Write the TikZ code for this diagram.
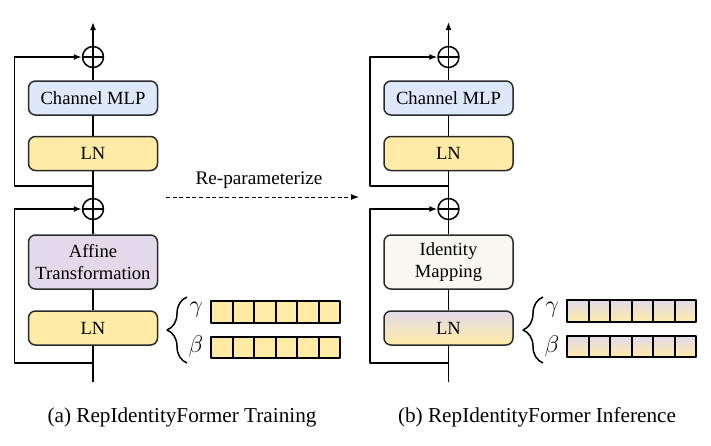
\documentclass[tikz,border=0pt]{standalone}
\usepackage{fontspec}
\setmainfont{Liberation Serif}
\usetikzlibrary{arrows.meta, decorations.pathreplacing, calc}
\definecolor{mlp}{RGB}{221,233,250}
\definecolor{lny}{RGB}{255,235,166}
\definecolor{aff}{RGB}{226,218,234}
\definecolor{idm}{RGB}{249,248,240}
\definecolor{bd}{HTML}{2a2a2a}

\begin{document}
\begin{tikzpicture}[x=0.5pt, y=-0.5pt, line join=round, line width=0.75pt,
    blk/.style={draw=bd, rounded corners=3.5pt, minimum width=64.5pt, minimum height=17pt,
        inner sep=1pt, align=center, font=\fontsize{9.3}{11}\selectfont},
    tall/.style={blk, minimum height=27pt},
    oplus/.style={circle, draw, minimum size=10.5pt, inner sep=0pt,
        path picture={\draw (path picture bounding box.north) -- (path picture bounding box.south)
            (path picture bounding box.west) -- (path picture bounding box.east);}},
    arr/.style={-{Latex[length=4pt,width=3pt]}},
    cell/.style={draw=black, line width=1pt},
    lbl/.style={font=\fontsize{11.5}{13}\selectfont}]

    \useasboundingbox (0,0) rectangle (711,445);

    % column positions (pixels of the original figure)
    \def\xa{93}
    \def\xb{448.5}
    \def\cw{21.5} % width of one gamma/beta cell

    % ---------------- (a) training ----------------
    \node[oplus] (sumA) at (\xa,57) {};
    \node[blk, fill=mlp] (mlpA) at (\xa,98) {Channel MLP};
    \node[blk, fill=lny] (lnA) at (\xa,153.5) {LN};
    \node[oplus] (sumB) at (\xa,209) {};
    \node[tall, fill=aff] (affA) at (\xa,262) {Affine\\Transformation};
    \node[blk, fill=lny] (lnB) at (\xa,328) {LN};
    \coordinate (inA) at (\xa,382);
    \coordinate (outA) at (\xa,22);
    \coordinate (brA) at (\xa,186);
    \coordinate (brB) at (\xa,363);

    % main path
    \draw (inA) -- (lnB) (lnB) -- (affA) (affA) -- (sumB) (sumB) -- (lnA) (lnA) -- (mlpA) (mlpA) -- (sumA);
    \draw[arr] (sumA) -- (outA);

    % skip connections
    \draw[arr] (brA) -- ++(-78.5,0) |- (sumA);
    \draw[arr] (brB) -- ++(-78.5,0) |- (sumB);

    % gamma / beta of LN
    \draw[decorate, decoration={brace, amplitude=10pt}] (187,363) -- (187,297);
    \node[lbl] (gA) at (196,310) {$\gamma$};
    \node[lbl] (bA) at (196,346) {$\beta$};
    \fill[lny] (211,301) rectangle ++(6*\cw,22);
    \fill[lny] (211,337) rectangle ++(6*\cw,21);
    \foreach \i in {0,...,5}{
        \draw[cell] (211+\i*\cw,301) rectangle ++(\cw,22);
        \draw[cell] (211+\i*\cw,337) rectangle ++(\cw,21);
    }

    % ---------------- re-parameterize ----------------
    \node[font=\fontsize{9.6}{11}\selectfont] (rp) at (259,180) {Re-parameterize};
    \coordinate (rpS) at (166,197);
    \coordinate (rpE) at (359,197);
    \draw[arr, line width=0.5pt, dash pattern=on 2pt off 1.3pt] (rpS) -- (rpE);

    % ---------------- (b) inference ----------------
    \node[oplus] (sumC) at (\xb,57) {};
    \node[blk, fill=mlp] (mlpB) at (\xb,98) {Channel MLP};
    \node[blk, fill=lny] (lnC) at (\xb,153.5) {LN};
    \node[oplus] (sumD) at (\xb,209) {};
    \node[tall, fill=idm] (idB) at (\xb,262) {Identity\\Mapping};
    \node[blk, top color=aff, bottom color=lny] (lnD) at (\xb,328) {LN};
    \coordinate (inB) at (\xb,382);
    \coordinate (outB) at (\xb,22);
    \coordinate (brC) at (\xb,186);
    \coordinate (brD) at (\xb,363);

    % main path
    \draw (inB) -- (lnD) (lnD) -- (idB) (idB) -- (sumD) (sumD) -- (lnC) (lnC) -- (mlpB) (mlpB) -- (sumC);
    \draw[arr] (sumC) -- (outB);

    % skip connections
    \draw[arr] (brC) -- ++(-78.5,0) |- (sumC);
    \draw[arr] (brD) -- ++(-78.5,0) |- (sumD);

    % merged gamma / beta
    \draw[decorate, decoration={brace, amplitude=10pt}] (543,363) -- (543,297);
    \node[lbl] (gB) at (552,310) {$\gamma$};
    \node[lbl] (bB) at (552,346) {$\beta$};
    \foreach \i in {0,...,5}{
        \shade[top color=aff, bottom color=lny] (567+\i*\cw,300) rectangle ++(\cw,22);
        \shade[top color=aff, bottom color=lny] (567+\i*\cw,336) rectangle ++(\cw,21);
    }
    \foreach \i in {0,...,5}{
        \draw[cell] (567+\i*\cw,300) rectangle ++(\cw,22);
        \draw[cell] (567+\i*\cw,336) rectangle ++(\cw,21);
    }

    % captions
    \node[font=\fontsize{10.6}{12}\selectfont] (capA) at (182,417) {(a) RepIdentityFormer Training};
    \node[font=\fontsize{10.6}{12}\selectfont] (capB) at (537,417) {(b) RepIdentityFormer Inference};

\end{tikzpicture}
\end{document}
